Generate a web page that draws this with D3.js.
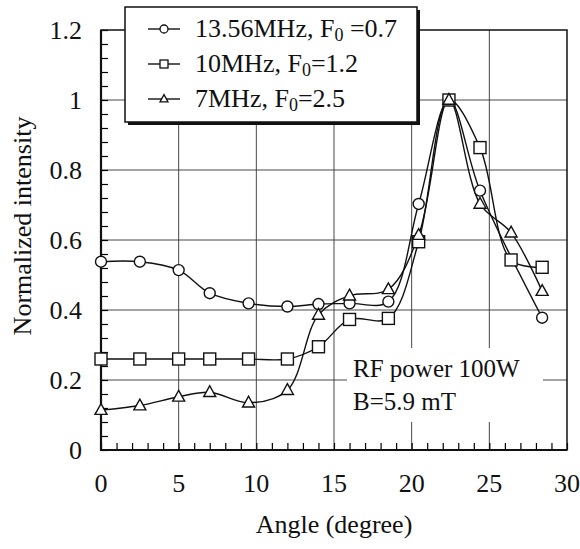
<!DOCTYPE html>
<html>
<head>
<meta charset="utf-8">
<script src="https://cdn.jsdelivr.net/npm/d3@7"></script>
<style>
  body { margin: 0; background: #fff; }
</style>
</head>
<body>
<div id="chart"></div>
<script>
// angles (degree) and normalized intensity for each RF frequency
const angles13 = [0, 2.5, 5, 7, 9.5, 12, 14, 16, 18.5, 20.45, 22.4, 24.4, 28.4];
const vals13   = [0.538, 0.538, 0.514, 0.448, 0.419, 0.41, 0.417, 0.419, 0.424, 0.703, 1.0, 0.741, 0.378];

const angles10 = [0, 2.5, 5, 7, 9.5, 12, 14, 16, 18.5, 20.45, 22.4, 24.4, 26.4, 28.4];
const vals10   = [0.26, 0.26, 0.26, 0.26, 0.26, 0.26, 0.295, 0.373, 0.376, 0.595, 1.0, 0.864, 0.543, 0.522];

const angles7  = [0, 2.5, 5, 7, 9.5, 12, 14, 16, 18.5, 20.45, 22.4, 24.4, 26.4, 28.4];
const vals7    = [0.114, 0.127, 0.152, 0.165, 0.135, 0.171, 0.386, 0.441, 0.459, 0.614, 1.0, 0.703, 0.621, 0.454];

const seriesNames = ["13.56MHz, F", "10MHz, F", "7MHz, F"];
const seriesF0 = [" =0.7", "=1.2", "=2.5"];
const seriesMarkers = ["circle", "square", "triangle"];

const xTicks = [0, 5, 10, 15, 20, 25, 30];
const yTicks = [0, 0.2, 0.4, 0.6, 0.8, 1, 1.2];

const series = [
  { name: seriesNames[0], f0: seriesF0[0], marker: seriesMarkers[0], pts: angles13.map((a, i) => [a, vals13[i]]) },
  { name: seriesNames[1], f0: seriesF0[1], marker: seriesMarkers[1], pts: angles10.map((a, i) => [a, vals10[i]]) },
  { name: seriesNames[2], f0: seriesF0[2], marker: seriesMarkers[2], pts: angles7.map((a, i) => [a, vals7[i]]) }
];

const width = 580, height = 549;
const plotL = 101, plotR = 567, plotT = 30, plotB = 450;

const x = d3.scaleLinear().domain([0, 30]).range([plotL, plotR]);
const y = d3.scaleLinear().domain([0, 1.2]).range([plotB, plotT]);

const svg = d3.select("#chart").append("svg")
  .attr("width", width)
  .attr("height", height);

// every text goes through here so the serif face sticks
function label(parent, txt, size) {
  return parent.append("text")
    .style("font-family", "'Liberation Serif'")
    .attr("font-size", size || 25)
    .attr("fill", "#111")
    .text(txt);
}

// grid
svg.append("g").selectAll("line")
  .data(xTicks.slice(1, -1))
  .enter().append("line")
    .attr("x1", d => x(d)).attr("x2", d => x(d))
    .attr("y1", plotT).attr("y2", plotB)
    .attr("stroke", "#333").attr("stroke-width", 0.9);

svg.append("g").selectAll("line")
  .data(yTicks.slice(1, -1))
  .enter().append("line")
    .attr("x1", plotL).attr("x2", plotR)
    .attr("y1", d => y(d)).attr("y2", d => y(d))
    .attr("stroke", "#333").attr("stroke-width", 0.9);

// minor ticks, inward
svg.append("g")
  .attr("transform", "translate(0," + plotB + ")")
  .call(d3.axisBottom(x).ticks(30).tickSize(-7).tickFormat(""))
  .call(g => g.select(".domain").remove())
  .call(g => g.selectAll("line").attr("stroke-width", 1.2));

svg.append("g")
  .attr("transform", "translate(" + plotL + ",0)")
  .call(d3.axisLeft(y).tickValues(d3.range(0, 1.2001, 0.04)).tickSize(-7).tickFormat(""))
  .call(g => g.select(".domain").remove())
  .call(g => g.selectAll("line").attr("stroke-width", 1.2));

// frame
svg.append("rect")
  .attr("x", plotL).attr("y", plotT)
  .attr("width", plotR - plotL).attr("height", plotB - plotT)
  .attr("fill", "none").attr("stroke", "#111").attr("stroke-width", 1.5);
svg.append("path")
  .attr("d", "M" + plotL + "," + plotT + "V" + plotB + "H" + plotR)
  .attr("fill", "none").attr("stroke", "#111").attr("stroke-width", 2.2);

// tick labels
xTicks.forEach(d => {
  label(svg, d, 26).attr("x", x(d)).attr("y", 492).attr("text-anchor", "middle");
});
yTicks.forEach(d => {
  label(svg, d, 26).attr("x", 82).attr("y", y(d) + 9).attr("text-anchor", "end");
});

// axis titles
label(svg, "Angle (degree)", 26)
  .attr("x", 334).attr("y", 533)
  .attr("text-anchor", "middle");

label(svg, "Normalized intensity", 26)
  .attr("transform", "translate(31,226) rotate(-90)")
  .attr("text-anchor", "middle");

// annotation with white background
svg.append("rect")
  .attr("x", 347).attr("y", 348)
  .attr("width", 196).attr("height", 74)
  .attr("fill", "#fff");
label(svg, "RF power 100W").attr("x", 353).attr("y", 377);
label(svg, "B=5.9 mT").attr("x", 353).attr("y", 410);

// markers
function drawMarker(g, type, cx, cy, s) {
  if (type === "circle") {
    g.append("circle").attr("cx", cx).attr("cy", cy).attr("r", s / 2);
  } else if (type === "square") {
    g.append("rect").attr("x", cx - s / 2).attr("y", cy - s / 2).attr("width", s).attr("height", s);
  } else {
    const h = s * 0.9;
    g.append("path").attr("d",
      "M" + cx + "," + (cy - h * 0.6) +
      "L" + (cx + s / 2) + "," + (cy + h * 0.4) +
      "L" + (cx - s / 2) + "," + (cy + h * 0.4) + "Z");
  }
}

const line = d3.line()
  .x(d => x(d[0]))
  .y(d => y(d[1]))
  .curve(d3.curveCatmullRom.alpha(0.5));

series.forEach(s => {
  svg.append("path")
    .attr("d", line(s.pts))
    .attr("fill", "none")
    .attr("stroke", "#111")
    .attr("stroke-width", 1.4);
});

series.forEach(s => {
  const g = svg.append("g").attr("fill", "#fff").attr("stroke", "#111").attr("stroke-width", 1.4);
  s.pts.forEach(p => drawMarker(g, s.marker, x(p[0]), y(p[1]), s.marker === "circle" ? 11 : 12));
});

// legend
const lx = 125, ly = 7, lw = 292, lh = 115;
svg.append("rect")
  .attr("x", lx + 3).attr("y", ly + 3)
  .attr("width", lw).attr("height", lh)
  .attr("fill", "#111");
svg.append("rect")
  .attr("x", lx).attr("y", ly)
  .attr("width", lw).attr("height", lh)
  .attr("fill", "#fff").attr("stroke", "#111").attr("stroke-width", 1.5);

series.forEach((s, i) => {
  const rowY = 29 + i * 35;
  svg.append("line")
    .attr("x1", 148).attr("x2", 180)
    .attr("y1", rowY).attr("y2", rowY)
    .attr("stroke", "#111").attr("stroke-width", 1.4);
  const g = svg.append("g").attr("fill", "#fff").attr("stroke", "#111").attr("stroke-width", 1.3);
  drawMarker(g, s.marker, 164, rowY, 8);
  const t = label(svg, null, 26).attr("x", 195).attr("y", rowY + 8);
  t.append("tspan").text(s.name);
  t.append("tspan").attr("font-size", 18).attr("dy", 4).text("0");
  t.append("tspan").attr("dy", -4).text(s.f0);
});
</script>
</body>
</html>
